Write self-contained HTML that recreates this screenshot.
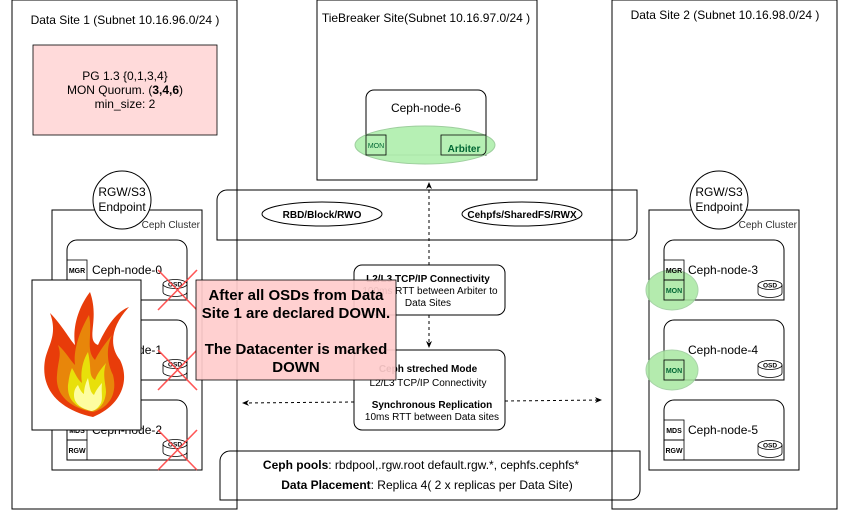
<!DOCTYPE html>
<html><head><meta charset="utf-8"><style>
body{margin:0;background:#fff;}
svg{display:block;font-family:"Liberation Sans",sans-serif;}
</style></head><body>
<svg width="850" height="511" viewBox="0 0 850 511" xmlns="http://www.w3.org/2000/svg">
<defs>
<marker id="ar" markerWidth="8" markerHeight="8" refX="6" refY="3" orient="auto"><path d="M0,0 L7,3 L0,6 L2,3 z" fill="#000"/></marker>
<g id="osd"><path d="M-12,-4 v8 a12,4.5 0 0 0 24,0 v-8" fill="#fff" stroke="#000" stroke-width="0.8"/><ellipse cx="0" cy="-4" rx="12" ry="4.5" fill="#fff" stroke="#000" stroke-width="0.8"/><text x="0" y="-1.5" font-size="6.5" font-weight="bold" text-anchor="middle">OSD</text></g>
</defs>
<rect x="0" y="0" width="850" height="511" fill="#fff"/>
<rect x="12" y="0" width="225" height="509" fill="none" stroke="#000"/>
<text x="125" y="24" font-size="12" text-anchor="middle">Data Site 1 (Subnet 10.16.96.0/24 )</text>
<rect x="317" y="0" width="220" height="180" fill="none" stroke="#000"/>
<text x="426" y="22" font-size="12" text-anchor="middle">TieBreaker Site(Subnet 10.16.97.0/24 )</text>
<rect x="612" y="0" width="225" height="509" fill="none" stroke="#000"/>
<text x="725" y="19" font-size="12" text-anchor="middle">Data Site 2 (Subnet 10.16.98.0/24 )</text>
<rect x="33" y="45" width="184" height="90" fill="#ffdada" stroke="#000" stroke-width="0.8"/>
<text x="125" y="80" font-size="12" text-anchor="middle">PG 1.3 {0,1,3,4}</text>
<text x="125" y="94" font-size="12" text-anchor="middle">MON Quorum. (<tspan font-weight="bold">3,4,6</tspan>)</text>
<text x="125" y="108" font-size="12" text-anchor="middle">min_size: 2</text>
<path d="M366,155 V98 a8,8 0 0 1 8,-8 H478 a8,8 0 0 1 8,8 V155 z" fill="#fff" stroke="#000"/>
<text x="426" y="112" font-size="12" text-anchor="middle">Ceph-node-6</text>
<ellipse cx="425" cy="145" rx="70" ry="19" fill="#b3f0b0" stroke="#9c9" stroke-width="1" opacity="0.95"/>
<rect x="366" y="135" width="20" height="20" fill="none" stroke="#000" stroke-width="0.8"/>
<text x="376" y="148" font-size="7" text-anchor="middle" fill="#063">MON</text>
<path d="M441,155 V135 H486 V150 a5,5 0 0 1 -5,5 z" fill="none" stroke="#000" stroke-width="0.8"/>
<text x="464" y="152" font-size="10" font-weight="bold" text-anchor="middle" fill="#063">Arbiter</text>
<path d="M227,190 H637 V230 a10,10 0 0 1 -10,10 H217 V200 a10,10 0 0 1 10,-10 z" fill="none" stroke="#000"/>
<ellipse cx="322" cy="214" rx="60" ry="12" fill="#fff" stroke="#000"/>
<text x="322" y="218" font-size="10" font-weight="bold" text-anchor="middle">RBD/Block/RWO</text>
<ellipse cx="522" cy="214" rx="60" ry="12" fill="#fff" stroke="#000"/>
<text x="522" y="218" font-size="10" font-weight="bold" text-anchor="middle">Cehpfs/SharedFS/RWX</text>
<line x1="429" y1="265" x2="429" y2="183" stroke="#000" stroke-dasharray="3,3" marker-end="url(#ar)"/>
<line x1="429" y1="315" x2="429" y2="347" stroke="#000" stroke-dasharray="3,3" marker-end="url(#ar)"/>
<line x1="354" y1="402" x2="243" y2="403" stroke="#000" stroke-dasharray="3,3" marker-end="url(#ar)"/>
<line x1="505" y1="401" x2="601" y2="400" stroke="#000" stroke-dasharray="3,3" marker-end="url(#ar)"/>
<rect x="354" y="265" width="151" height="50" rx="8" fill="#fff" stroke="#000"/>
<text x="428" y="282" font-size="10" font-weight="bold" text-anchor="middle">L2/L3 TCP/IP Connectivity</text>
<text x="430" y="294" font-size="10" text-anchor="middle">100ms RTT between Arbiter to</text>
<text x="428" y="306" font-size="10" text-anchor="middle">Data Sites</text>
<rect x="354" y="350" width="151" height="80" rx="8" fill="#fff" stroke="#000"/>
<text x="428" y="372" font-size="10" font-weight="bold" text-anchor="middle">Ceph streched Mode</text>
<text x="428" y="386" font-size="10" text-anchor="middle">L2/L3 TCP/IP Connectivity</text>
<text x="432" y="408" font-size="10" font-weight="bold" text-anchor="middle">Synchronous Replication</text>
<text x="432" y="420" font-size="10" text-anchor="middle">10ms RTT between Data sites</text>
<path d="M230,451 H640 V490 a10,10 0 0 1 -10,10 H220 V461 a10,10 0 0 1 10,-10 z" fill="#fff" stroke="#000"/>
<line x1="237" y1="451" x2="237" y2="500" stroke="#000"/>
<line x1="612" y1="451" x2="612" y2="500" stroke="#000"/>
<text x="421" y="469" font-size="12" text-anchor="middle"><tspan font-weight="bold">Ceph pools</tspan>: rbdpool,.rgw.root default.rgw.*, cephfs.cephfs*</text>
<text x="427" y="489" font-size="12" text-anchor="middle"><tspan font-weight="bold">Data Placement</tspan>: Replica 4( 2 x replicas per Data Site)</text>
<rect x="52" y="210" width="150" height="260" fill="#fff" stroke="#000"/>
<circle cx="122" cy="200" r="29" fill="#fff" stroke="#000"/>
<text x="122" y="196" font-size="12" text-anchor="middle">RGW/S3</text>
<text x="122" y="211" font-size="12" text-anchor="middle">Endpoint</text>
<text x="200" y="228" font-size="10" text-anchor="end" fill="#333">Ceph Cluster</text>
<g fill="none" stroke="#000">
<path d="M67,300 V250 a10,10 0 0 1 10,-10 H177 a10,10 0 0 1 10,10 V300 z" fill="#fff"/>
<path d="M67,380 V330 a10,10 0 0 1 10,-10 H177 a10,10 0 0 1 10,10 V380 z" fill="#fff"/>
<path d="M67,460 V410 a10,10 0 0 1 10,-10 H177 a10,10 0 0 1 10,10 V460 z" fill="#fff"/>
<rect x="67" y="260" width="20" height="20" stroke-width="0.8"/>
<rect x="67" y="420" width="20" height="20" stroke-width="0.8"/>
<rect x="67" y="440" width="20" height="20" stroke-width="0.8"/>
</g>
<text x="77" y="273" font-size="7" font-weight="bold" text-anchor="middle">MGR</text>
<text x="77" y="433" font-size="7" font-weight="bold" text-anchor="middle">MDS</text>
<text x="77" y="453" font-size="7" font-weight="bold" text-anchor="middle">RGW</text>
<text x="92" y="274" font-size="12">Ceph-node-0</text>
<text x="92" y="354" font-size="12">Ceph-node-1</text>
<text x="92" y="434" font-size="12">Ceph-node-2</text>
<use href="#osd" x="175" y="288"/>
<use href="#osd" x="175" y="368"/>
<use href="#osd" x="175" y="448"/>
<g stroke="#f44" stroke-width="1.6" opacity="0.9">
<line x1="158" y1="270" x2="197" y2="310"/><line x1="197" y1="270" x2="158" y2="310"/>
<line x1="158" y1="350" x2="197" y2="390"/><line x1="197" y1="350" x2="158" y2="390"/>
<line x1="158" y1="430" x2="197" y2="470"/><line x1="197" y1="430" x2="158" y2="470"/>
</g>
<rect x="32" y="280" width="109" height="150" fill="#fff" stroke="#000"/>
<path d="M90,292 C100,320 85,340 98,345 C105,330 115,312 129,307 C112,325 108,345 120,360 C130,380 122,405 93,417 C60,410 40,390 45,360 C48,345 58,335 50,313 C62,325 70,340 75,345 C72,325 80,305 90,292 z" fill="#e83c0a"/>
<path d="M89,315 C93,335 85,350 95,360 C100,350 108,340 112,335 C105,350 108,365 113,375 C118,395 108,408 93,412 C70,408 55,395 57,375 C58,360 62,355 58,345 C66,352 70,360 75,365 C73,350 80,330 89,315 z" fill="#e8860a"/>
<path d="M88,352 C92,370 88,375 95,380 C98,372 102,368 106,363 C102,375 106,385 106,392 C105,405 98,410 92,411 C76,408 67,400 68,385 C69,378 70,372 72,368 C76,375 78,380 82,383 C80,372 83,360 88,352 z" fill="#e8e00a"/>
<path d="M88,378 C90,388 90,392 94,395 C96,390 100,385 102,383 C101,392 103,398 101,403 C97,410 93,411 91,411 C80,408 74,403 74,395 C74,390 76,387 78,385 C80,390 82,393 84,394 C84,388 86,382 88,378 z" fill="#fdfda0"/>
<rect x="196" y="280" width="200" height="100" fill="#ffcccc" fill-opacity="0.92" stroke="#000" stroke-width="0.8"/>
<g font-size="15" font-weight="bold" text-anchor="middle">
<text x="296" y="300">After all OSDs from Data</text>
<text x="296" y="318">Site 1 are declared DOWN.</text>
<text x="296" y="354">The Datacenter is marked</text>
<text x="296" y="372">DOWN</text>
</g>
<rect x="649" y="210" width="150" height="260" fill="#fff" stroke="#000"/>
<circle cx="719" cy="200" r="29" fill="#fff" stroke="#000"/>
<text x="719" y="196" font-size="12" text-anchor="middle">RGW/S3</text>
<text x="719" y="211" font-size="12" text-anchor="middle">Endpoint</text>
<text x="797" y="228" font-size="10" text-anchor="end" fill="#333">Ceph Cluster</text>
<g fill="#fff" stroke="#000">
<path d="M664,300 V250 a10,10 0 0 1 10,-10 H774 a10,10 0 0 1 10,10 V300 z"/>
<path d="M664,380 V330 a10,10 0 0 1 10,-10 H774 a10,10 0 0 1 10,10 V380 z"/>
<path d="M664,460 V410 a10,10 0 0 1 10,-10 H774 a10,10 0 0 1 10,10 V460 z"/>
</g>
<ellipse cx="672" cy="290" rx="26" ry="20" fill="#a8e8a0" stroke="#9c9" opacity="0.85"/>
<ellipse cx="672" cy="370" rx="26" ry="20" fill="#a8e8a0" stroke="#9c9" opacity="0.85"/>
<g fill="none" stroke="#000" stroke-width="0.8">
<rect x="664" y="260" width="20" height="20"/><rect x="664" y="280" width="20" height="20"/>
<rect x="664" y="360" width="20" height="20"/>
<rect x="664" y="420" width="20" height="20"/><rect x="664" y="440" width="20" height="20"/>
</g>
<text x="674" y="273" font-size="7" font-weight="bold" text-anchor="middle">MGR</text>
<text x="674" y="293" font-size="7" font-weight="bold" text-anchor="middle" fill="#063">MON</text>
<text x="674" y="373" font-size="7" font-weight="bold" text-anchor="middle" fill="#063">MON</text>
<text x="674" y="433" font-size="7" font-weight="bold" text-anchor="middle">MDS</text>
<text x="674" y="453" font-size="7" font-weight="bold" text-anchor="middle">RGW</text>
<text x="688" y="274" font-size="12">Ceph-node-3</text>
<text x="688" y="354" font-size="12">Ceph-node-4</text>
<text x="688" y="434" font-size="12">Ceph-node-5</text>
<use href="#osd" x="770" y="289"/>
<use href="#osd" x="770" y="369"/>
<use href="#osd" x="770" y="449"/>
</svg>
</body></html>
